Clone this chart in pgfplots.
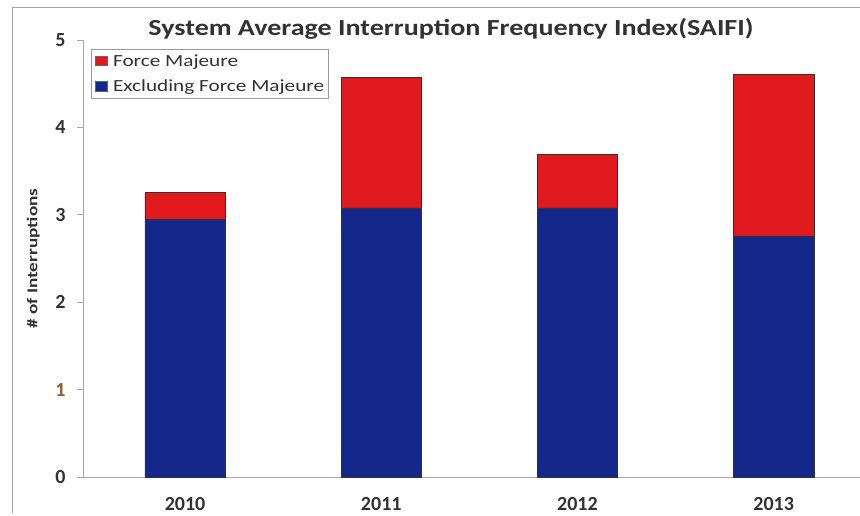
\documentclass[border=0pt]{standalone}
\usepackage{graphicx}
\usepackage{pgfplots}
\pgfplotsset{compat=1.18}
\usepackage{fontspec}
\setmainfont{Carlito}
\definecolor{fmred}{RGB}{224,26,28}
\definecolor{exblue}{RGB}{20,40,140}
\definecolor{txt}{RGB}{50,50,50}
\definecolor{brn}{RGB}{140,95,55}
\begin{document}
\begin{tikzpicture}[x=1pt,y=1pt]
\useasboundingbox (0,0) rectangle (860,515);
\draw[gray!70, line width=1pt] (12,2) -- (12,507) -- (870,507);
\node[font=\fontsize{23}{25}\selectfont\bfseries, text=txt] at (451,486) {\scalebox{1.22}[1]{System Average Interruption Frequency Index(SAIFI)}};
\begin{axis}[
  at={(83pt,38pt)}, anchor=south west,
  scale only axis, width=777pt, height=437pt,
  /pgf/number format/assume math mode=true,
  ybar stacked, bar width=0.41,
  xmin=-0.52, xmax=3.44, ymin=0, ymax=5,
  axis x line=bottom, axis y line=left,
  axis line style={-, gray!70, line width=0.8pt},
  tick align=outside,
  ytick={0,1,2,3,4,5},
  yticklabels={0,\textcolor{brn}{1},2,3,4,5},
  xtick={0,1,2,3}, xticklabels={2010,2011,2012,2013},
  x tick style={draw=none},
  y tick style={gray!70, line width=0.8pt},
  major tick length=6pt,
  extra x ticks={0.5,1.5,2.5}, extra x tick labels={},
  extra x tick style={tick style={draw=gray!70, line width=0.8pt}},
  tick label style={font=\fontsize{20}{21}\selectfont\bfseries, text=txt},
  yticklabel style={xshift=-8pt},
  xticklabel style={yshift=-11pt},
  ylabel={\scalebox{1.28}[1]{\# of Interruptions}},
  ylabel style={at={(axis description cs:-0.064,0.5)}, anchor=center, font=\fontsize{15}{16}\selectfont\bfseries, text=txt},
  legend style={at={(0.01,0.979)}, anchor=north west, draw=gray!80, line width=0.6pt,
    font=\fontsize{17}{19}\selectfont, text=txt, inner xsep=2pt, inner ysep=3pt, row sep=8pt, cells={anchor=west}},
]
\addplot[fill=exblue, draw=black!80, line width=0.5pt, forget plot] coordinates {(0,2.95) (1,3.08) (2,3.08) (3,2.76)};
\addplot[fill=fmred, draw=black!80, line width=0.5pt, forget plot] coordinates {(0,0.31) (1,1.49) (2,0.61) (3,1.85)};
\addlegendimage{legend image code/.code={\draw[fill=fmred, draw=black!60, line width=0.4pt] (2pt,-4.5pt) rectangle (14pt,5pt); \path[draw=none, fill=none] (0pt,0pt) -- (18pt,0pt);}}
\addlegendentry{\scalebox{1.25}[1]{Force Majeure}}
\addlegendimage{legend image code/.code={\draw[fill=exblue, draw=black!60, line width=0.4pt] (2pt,-4.5pt) rectangle (14pt,5pt); \path[draw=none, fill=none] (0pt,0pt) -- (18pt,0pt);}}
\addlegendentry{\scalebox{1.25}[1]{Excluding Force Majeure}}
\end{axis}
\end{tikzpicture}
\end{document}
